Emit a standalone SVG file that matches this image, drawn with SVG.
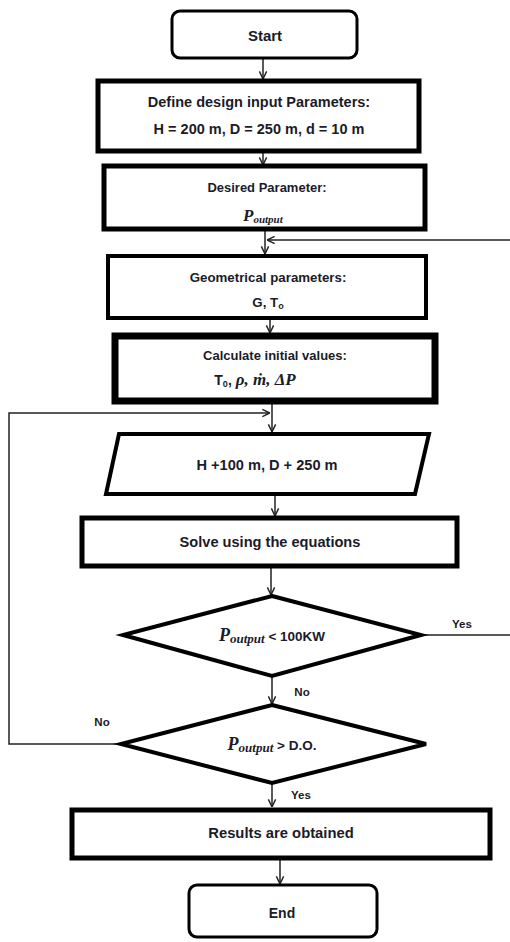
<svg xmlns="http://www.w3.org/2000/svg" width="510" height="942" viewBox="0 0 510 942">
<defs>
<style>
.t{font-family:"Liberation Sans",Arial,sans-serif;font-weight:bold;fill:#1b1b2a;text-anchor:middle}
.m{font-family:"Liberation Serif","Times New Roman",serif;font-style:italic;font-weight:bold;fill:#1b1b2a}
.box{fill:#fff;stroke:#000}
.c{fill:none;stroke:#222;stroke-width:1.5}
</style>
<marker id="ah" viewBox="0 0 10 10" refX="9.5" refY="5" markerWidth="9" markerHeight="12" markerUnits="userSpaceOnUse" orient="auto">
<path d="M1,1 L9.5,5 L1,9" fill="none" stroke="#222" stroke-width="1.6"/>
</marker>
</defs>
<rect width="510" height="942" fill="#fff"/>
<g id="connectors">
<path class="c" d="M263,58 V79" marker-end="url(#ah)"/>
<path class="c" d="M263,152 V165" marker-end="url(#ah)"/>
<path class="c" d="M265,230 V254" marker-end="url(#ah)"/>
<path class="c" d="M510,240 H267" marker-end="url(#ah)"/>
<path class="c" d="M270,318 V333" marker-end="url(#ah)"/>
<path class="c" d="M272,403 V432" marker-end="url(#ah)"/>
<path class="c" d="M120,744 H9 V413 H270" marker-end="url(#ah)"/>
<path class="c" d="M275,495 V516" marker-end="url(#ah)"/>
<path class="c" d="M271,567 V595" marker-end="url(#ah)"/>
<path class="c" d="M422,635 H510"/>
<path class="c" d="M272,677 V704" marker-end="url(#ah)"/>
<path class="c" d="M272,783 V807" marker-end="url(#ah)"/>
<path class="c" d="M280,859 V884" marker-end="url(#ah)"/>
<text class="t" x="462" y="628" font-size="11.5">Yes</text>
<text class="t" x="302" y="696" font-size="11.5">No</text>
<text class="t" x="102" y="726" font-size="11.5">No</text>
<text class="t" x="301" y="799" font-size="11.5">Yes</text>
</g>
<g id="start">
<rect class="box" x="172" y="11" width="185" height="47" rx="8" stroke-width="3"/>
<text class="t" x="265" y="41" font-size="15">Start</text>
</g>
<g id="define">
<rect class="box" x="98" y="81" width="321" height="70" stroke-width="5"/>
<text class="t" x="259" y="107" font-size="14.5">Define design input Parameters:</text>
<text class="t" x="259" y="134" font-size="14.5">H = 200 m, D = 250 m, d = 10 m</text>
</g>
<g id="desired">
<rect class="box" x="104" y="166" width="321" height="63" stroke-width="5"/>
<text class="t" x="267" y="192" font-size="13">Desired Parameter:</text>
<text class="m" x="243" y="221" font-size="17">P<tspan font-size="11" dy="2">output</tspan></text>
</g>
<g id="geometrical">
<rect class="box" x="108" y="256" width="318" height="62" stroke-width="4"/>
<text class="t" x="268" y="282" font-size="13.3">Geometrical parameters:</text>
<text class="t" x="268" y="307" font-size="13.3">G, T<tspan font-size="9" dy="2">o</tspan></text>
</g>
<g id="calculate">
<rect class="box" x="115" y="336" width="320" height="65" stroke-width="7"/>
<text class="t" x="275" y="360" font-size="13">Calculate initial values:</text>
<text class="t" x="255" y="385" font-size="14">T<tspan font-size="9" dy="2">0</tspan><tspan dy="-2">, </tspan><tspan class="m" font-size="17" style="text-anchor:start">ρ, ṁ, ΔP</tspan></text>
</g>
<g id="increment">
<polygon class="box" points="119,434 429,434 415,494 106,494" stroke-width="4"/>
<text class="t" x="267" y="470" font-size="14.6">H +100 m, D + 250 m</text>
</g>
<g id="solve">
<rect class="box" x="82" y="518" width="375" height="48" stroke-width="5"/>
<text class="t" x="270" y="547" font-size="14.6">Solve using the equations</text>
</g>
<g id="check1">
<polygon class="box" points="272,596 421,635 272,676 123,635" stroke-width="4"/>
<text x="272" y="641" text-anchor="middle"><tspan class="m" font-size="18">P</tspan><tspan class="m" font-size="13" dy="2">output</tspan><tspan class="t" font-size="13.5" dy="-2" style="text-anchor:start"> &lt; 100KW</tspan></text>
</g>
<g id="check2">
<polygon class="box" points="272,705 426,744 272,783 121,744" stroke-width="4"/>
<text x="272" y="750" text-anchor="middle"><tspan class="m" font-size="18">P</tspan><tspan class="m" font-size="13" dy="2">output</tspan><tspan class="t" font-size="13.5" dy="-2" style="text-anchor:start"> &gt; D.O.</tspan></text>
</g>
<g id="results">
<rect class="box" x="72" y="810" width="418" height="48" stroke-width="5"/>
<text class="t" x="281" y="838" font-size="14.8">Results are obtained</text>
</g>
<g id="end">
<rect class="box" x="189" y="885" width="188" height="52" rx="8" stroke-width="3"/>
<text class="t" x="282" y="918" font-size="14">End</text>
</g>
</svg>
